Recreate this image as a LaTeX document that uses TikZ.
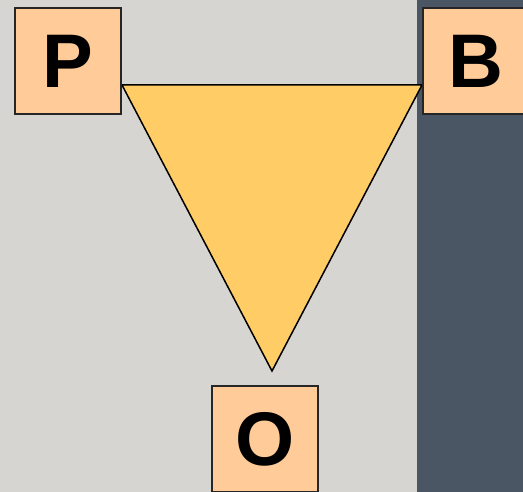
\documentclass[tikz,border=0pt]{standalone}
\usepackage{fontspec}
\setmainfont{Liberation Sans}
\definecolor{lightbg}{HTML}{D6D5D1}
\definecolor{darkbg}{HTML}{4A5664}
\definecolor{boxfill}{HTML}{FFCC99}
\definecolor{trifill}{HTML}{FFCC66}
\begin{document}
\begin{tikzpicture}[x=1pt,y=-1pt,
  letterbox/.style={draw=black!85, line width=1.8pt, fill=boxfill, minimum width=106pt, minimum height=106pt, inner sep=0pt, font=\fontsize{76}{76}\selectfont\bfseries},
  tri/.style={draw=black, line width=1.5pt, fill=trifill, line join=miter}]
\useasboundingbox (0,0) rectangle (523,492);
\fill[lightbg] (0,0) rectangle (417,492);
\fill[darkbg] (417,0) rectangle (523,492);
\coordinate (t1) at (122,85);
\coordinate (t2) at (422,85);
\coordinate (t3) at (272,371);
\draw[tri] (t1) -- (t2) -- (t3) -- cycle;
\node[letterbox] (P) at (68,61) {P};
\node[letterbox] (B) at (476,61) {B};
\node[letterbox] (O) at (265,439) {O};
\end{tikzpicture}
\end{document}
